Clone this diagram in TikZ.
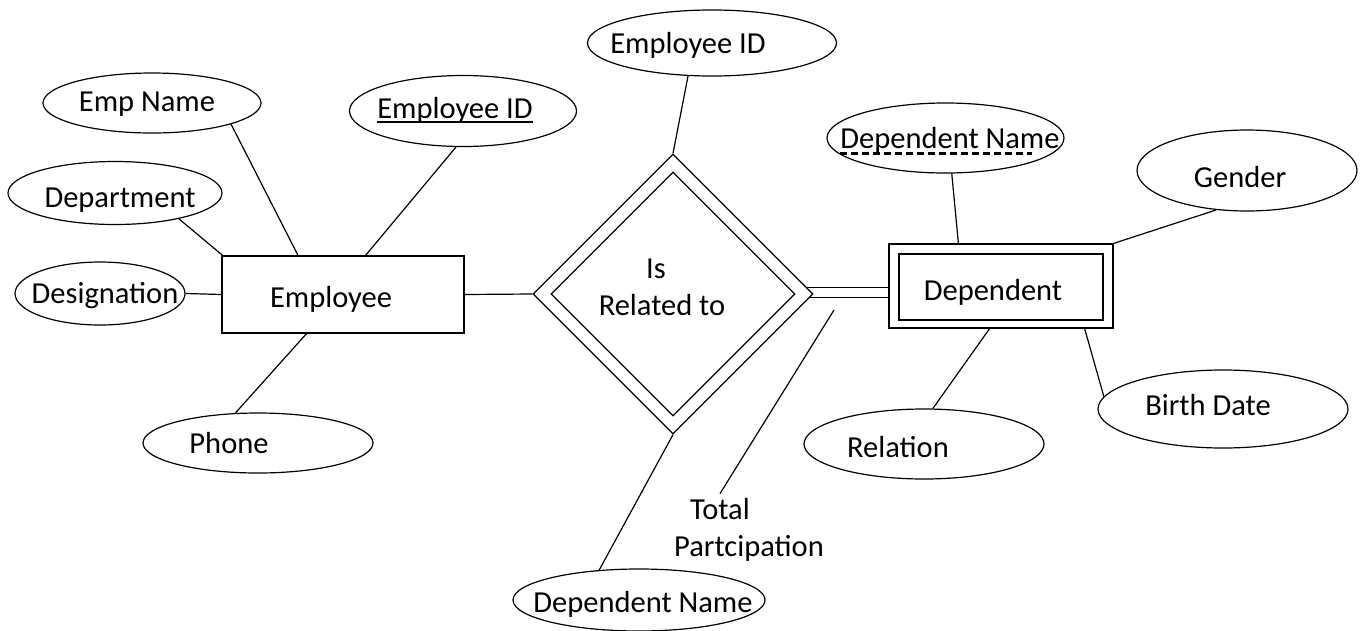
\documentclass[tikz,border=0pt]{standalone}
\usepackage{fontspec}
\setmainfont{Carlito}
\usetikzlibrary{shapes.geometric,backgrounds}
\begin{document}
\begin{tikzpicture}[x=1pt,y=-1pt,
  lw/.style={line width=1.2pt},
  attr/.style={ellipse, draw, lw, fill=white, inner sep=0pt},
  entity/.style={rectangle, draw, lw, fill=white, inner sep=0pt},
  relshape/.style={diamond, draw, lw, fill=white, inner sep=0pt},
  txt/.style={font=\fontsize{30.5}{36}\selectfont, inner sep=0pt, anchor=base},
  link/.style={lw}]
\useasboundingbox (0,0) rectangle (1366,630);

% attribute ellipses
\node[attr, minimum width=218pt, minimum height=60pt] (empname)  at (152,103)   {};
\node[attr, minimum width=227pt, minimum height=71pt] (eid)      at (463,111)   {};
\node[attr, minimum width=214pt, minimum height=63pt] (dept)     at (115,193)   {};
\node[attr, minimum width=170pt, minimum height=63pt] (desig)    at (100,293.5) {};
\node[attr, minimum width=230pt, minimum height=60pt] (phone)    at (258,443)   {};
\node[attr, minimum width=249pt, minimum height=66pt] (eidtop)   at (712,43)    {};
\node[attr, minimum width=237pt, minimum height=70pt] (dnup)     at (945.5,138) {};
\node[attr, minimum width=220pt, minimum height=81pt] (gender)   at (1247,170.5){};
\node[attr, minimum width=250pt, minimum height=78pt] (birth)    at (1223,409)  {};
\node[attr, minimum width=240pt, minimum height=70pt] (relation) at (924,444)   {};
\node[attr, minimum width=252pt, minimum height=62pt] (dnlow)    at (639,600)   {};

% entities
\node[entity, minimum width=242pt, minimum height=77pt] (emp) at (343,294.5) {};
\node[entity, minimum width=224pt, minimum height=84pt] (dep) at (1001,286) {};
\node[entity, minimum width=204pt, minimum height=66pt] (depin) at (1001,287) {};

% identifying relationship
\node[relshape, minimum width=280pt, minimum height=280pt] (rel) at (673,294) {};
\node[relshape, minimum width=244pt, minimum height=244pt] (relin) at (673,294) {};

% connectors
\begin{scope}[on background layer]
  \draw[link] (empname.-15) -- (emp.139);
  \draw[link] (eid.-101) -- (emp.60);
  \draw[link] (dept.-22) -- (emp.162);
  \draw[link] (desig.east) -- (emp.west);
  \draw[link] (phone.127) -- (emp.-133);
  \draw[link] (emp.east) -- (rel.west);
  \draw[link] (eidtop.-126) -- (rel.north);
  \draw[link] (dnlow.143) -- (rel.south);
  \draw[link, double, double distance=9.5pt] ([yshift=1.5pt]rel.center) -- ([yshift=1.5pt]rel.center -| dep.west);
  \draw[link] (dnup.-80) -- (dep.135);
  \draw[link] (gender.-128) -- (dep.north east);
  \draw[link] (birth.174) -- (dep.-27);
  \draw[link] (relation.76) -- (dep.-105);
\end{scope}

% labels
\node[txt] (empname-t)  at (147,111) {Emp Name};
\node[txt] (eid-t)      at (455,118) {Employee ID};
\node[txt] (dept-t)     at (120,207) {Department};
\node[txt] (desig-t)    at (105,303) {Designation};
\node[txt] (emp-t)      at (331,307) {Employee};
\node[txt] (phone-t)    at (229,453) {Phone};
\node[txt] (eidtop-t)   at (688,53)  {Employee ID};
\node[txt] (is-t)       at (656,278) {Is};
\node[txt] (relto-t)    at (662,315) {Related to};
\node[txt] (dnup-t)     at (950,148) {Dependent Name};
\node[txt] (dep-t)      at (993,300) {Dependent};
\node[txt] (gender-t)   at (1240,187) {Gender};
\node[txt] (birth-t)    at (1208,415) {Birth Date};
\node[txt] (relation-t) at (898,457) {Relation};
\node[txt] (dnlow-t)    at (643,612) {Dependent Name};
\node[txt] (total-t)    at (720,519) {Total};
\node[txt] (part-t)     at (749,556) {Partcipation};

% key underlines
\draw[line width=1.2pt] ([yshift=-4pt]eid-t.base west) -- ([yshift=-4pt]eid-t.base east);
\draw[line width=3pt, dash pattern=on 7pt off 4pt]
  ([yshift=-5pt]dnup-t.base west) -- ([yshift=-5pt,xshift=-28pt]dnup-t.base east);

% total participation pointer
\coordinate (tp) at (834,310);
\draw[link] (tp) -- ([yshift=4pt]total-t.north);
\end{tikzpicture}
\end{document}
